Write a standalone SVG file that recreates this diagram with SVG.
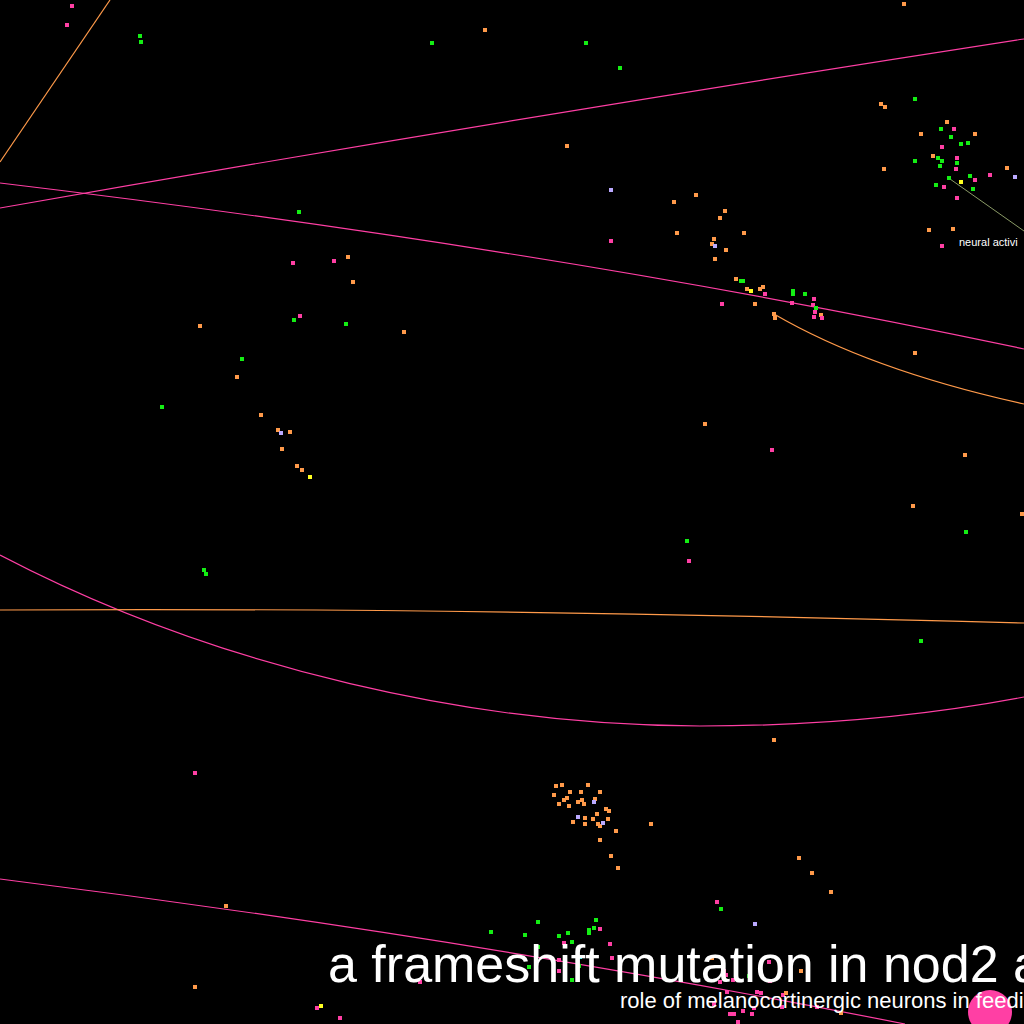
<svg xmlns="http://www.w3.org/2000/svg" xmlns:xlink="http://www.w3.org/1999/xlink" width="1024" height="1024" viewBox="0 0 1024 1024">
<style>
.p{fill:#ff3fa4}.o{fill:#ff9a4a}.g{fill:#14ee14}.l{fill:#bbaaff}.y{fill:#ffff22}.c{fill:#22eeee}
.lp{fill:none;stroke:#ff3fa4;stroke-width:1.2}
.lo{fill:none;stroke:#ff9a4a;stroke-width:1.2}
.t{font-family:"Liberation Sans",Arial,sans-serif;fill:#ffffff}
</style>
<defs><rect id="d" x="-2" y="-2" width="4" height="4"/></defs>
<rect width="1024" height="1024" fill="#000"/>
<g id="connectors">
<path class="lo" d="M110,0 L0,162"/>
<path class="lp" d="M0,208 Q500,120 1024,39"/>
<path class="lp" d="M0,183 Q560,250 1024,349"/>
<path class="lo" d="M774,314 Q870,370 1024,404"/>
<path d="M950,179 L1024,231" fill="none" stroke="#8a9a66" stroke-width="1"/>
<path class="lp" d="M0,555 C220,670 480,726 700,726 C830,726 940,713 1024,697"/>
<path class="lo" d="M0,610 Q450,607 1024,623"/>
<path class="lp" d="M0,879 Q470,938 905,1024"/>
</g>
<g id="dots">
<use href="#d" class="p" x="72" y="6"/><use href="#d" class="p" x="67" y="25"/>
<use href="#d" class="g" x="140" y="36"/><use href="#d" class="g" x="141" y="42"/>
<use href="#d" class="g" x="299" y="212"/>
<use href="#d" class="o" x="485" y="30"/><use href="#d" class="g" x="432" y="43"/>
<use href="#d" class="g" x="586" y="43"/><use href="#d" class="g" x="620" y="68"/>
<use href="#d" class="o" x="567" y="146"/><use href="#d" class="l" x="611" y="190"/>
<use href="#d" class="o" x="904" y="4"/>
<use href="#d" class="o" x="881" y="104"/><use href="#d" class="o" x="885" y="107"/>
<use href="#d" class="g" x="915" y="99"/><use href="#d" class="o" x="947" y="122"/>
<use href="#d" class="p" x="954" y="129"/><use href="#d" class="o" x="921" y="134"/>
<use href="#d" class="g" x="941" y="129"/><use href="#d" class="g" x="951" y="137"/>
<use href="#d" class="o" x="975" y="134"/><use href="#d" class="g" x="961" y="144"/>
<use href="#d" class="g" x="968" y="143"/><use href="#d" class="p" x="942" y="147"/>
<use href="#d" class="p" x="957" y="158"/><use href="#d" class="o" x="933" y="156"/>
<use href="#d" class="g" x="938" y="158"/><use href="#d" class="g" x="942" y="161"/>
<use href="#d" class="g" x="915" y="161"/><use href="#d" class="g" x="957" y="163"/>
<use href="#d" class="g" x="940" y="166"/><use href="#d" class="p" x="956" y="169"/>
<use href="#d" class="o" x="884" y="169"/><use href="#d" class="g" x="970" y="176"/>
<use href="#d" class="p" x="975" y="180"/><use href="#d" class="p" x="990" y="175"/>
<use href="#d" class="o" x="1007" y="168"/><use href="#d" class="l" x="1015" y="177"/>
<use href="#d" class="y" x="961" y="182"/><use href="#d" class="g" x="949" y="178"/>
<use href="#d" class="g" x="936" y="185"/><use href="#d" class="p" x="944" y="187"/>
<use href="#d" class="g" x="973" y="189"/><use href="#d" class="p" x="957" y="198"/>
<use href="#d" class="o" x="929" y="230"/><use href="#d" class="o" x="953" y="229"/>
<use href="#d" class="p" x="942" y="246"/>
<use href="#d" class="o" x="696" y="195"/><use href="#d" class="o" x="674" y="202"/>
<use href="#d" class="o" x="725" y="211"/><use href="#d" class="o" x="720" y="218"/>
<use href="#d" class="o" x="677" y="233"/><use href="#d" class="o" x="744" y="233"/>
<use href="#d" class="o" x="714" y="239"/><use href="#d" class="o" x="712" y="244"/>
<use href="#d" class="l" x="715" y="246"/><use href="#d" class="o" x="726" y="250"/>
<use href="#d" class="o" x="715" y="259"/><use href="#d" class="o" x="736" y="279"/>
<use href="#d" class="g" x="741" y="281"/><use href="#d" class="g" x="743" y="281"/>
<use href="#d" class="o" x="747" y="289"/><use href="#d" class="y" x="751" y="291"/>
<use href="#d" class="o" x="763" y="287"/><use href="#d" class="o" x="760" y="289"/>
<use href="#d" class="p" x="765" y="294"/><use href="#d" class="g" x="793" y="291"/>
<use href="#d" class="g" x="793" y="294"/><use href="#d" class="g" x="805" y="294"/>
<use href="#d" class="o" x="755" y="304"/><use href="#d" class="p" x="722" y="304"/>
<use href="#d" class="p" x="792" y="303"/><use href="#d" class="p" x="814" y="299"/>
<use href="#d" class="p" x="813" y="305"/><use href="#d" class="g" x="816" y="308"/>
<use href="#d" class="p" x="815" y="312"/><use href="#d" class="p" x="814" y="317"/>
<use href="#d" class="o" x="821" y="315"/><use href="#d" class="p" x="822" y="318"/>
<use href="#d" class="o" x="774" y="314"/><use href="#d" class="o" x="775" y="318"/>
<use href="#d" class="p" x="611" y="241"/>
<use href="#d" class="p" x="293" y="263"/><use href="#d" class="p" x="334" y="261"/>
<use href="#d" class="o" x="348" y="257"/><use href="#d" class="o" x="353" y="282"/>
<use href="#d" class="p" x="300" y="316"/><use href="#d" class="g" x="294" y="320"/>
<use href="#d" class="g" x="346" y="324"/><use href="#d" class="o" x="404" y="332"/>
<use href="#d" class="g" x="242" y="359"/><use href="#d" class="o" x="261" y="415"/>
<use href="#d" class="o" x="278" y="430"/><use href="#d" class="l" x="281" y="433"/>
<use href="#d" class="o" x="290" y="432"/><use href="#d" class="o" x="282" y="449"/>
<use href="#d" class="o" x="297" y="466"/><use href="#d" class="o" x="302" y="470"/>
<use href="#d" class="y" x="310" y="477"/>
<use href="#d" class="o" x="200" y="326"/><use href="#d" class="o" x="237" y="377"/>
<use href="#d" class="g" x="162" y="407"/><use href="#d" class="g" x="204" y="570"/>
<use href="#d" class="g" x="206" y="574"/>
<use href="#d" class="o" x="915" y="353"/><use href="#d" class="o" x="705" y="424"/>
<use href="#d" class="p" x="772" y="450"/><use href="#d" class="o" x="965" y="455"/>
<use href="#d" class="o" x="913" y="506"/><use href="#d" class="o" x="1022" y="514"/>
<use href="#d" class="g" x="966" y="532"/><use href="#d" class="g" x="687" y="541"/>
<use href="#d" class="p" x="689" y="561"/><use href="#d" class="g" x="921" y="641"/>
<use href="#d" class="p" x="195" y="773"/><use href="#d" class="o" x="226" y="906"/>
<use href="#d" class="o" x="195" y="987"/><use href="#d" class="p" x="317" y="1008"/>
<use href="#d" class="y" x="321" y="1006"/><use href="#d" class="p" x="340" y="1018"/>
<use href="#d" class="p" x="420" y="982"/>
<use href="#d" class="o" x="774" y="740"/><use href="#d" class="o" x="651" y="824"/>
<use href="#d" class="o" x="799" y="858"/><use href="#d" class="o" x="812" y="873"/>
<use href="#d" class="o" x="831" y="892"/>
<use href="#d" class="o" x="556" y="786"/><use href="#d" class="o" x="562" y="785"/>
<use href="#d" class="o" x="588" y="785"/><use href="#d" class="o" x="554" y="795"/>
<use href="#d" class="o" x="570" y="792"/><use href="#d" class="o" x="581" y="792"/>
<use href="#d" class="o" x="600" y="792"/><use href="#d" class="o" x="564" y="800"/>
<use href="#d" class="o" x="567" y="798"/><use href="#d" class="o" x="582" y="800"/>
<use href="#d" class="o" x="578" y="802"/><use href="#d" class="o" x="584" y="804"/>
<use href="#d" class="o" x="595" y="799"/><use href="#d" class="l" x="594" y="802"/>
<use href="#d" class="o" x="559" y="804"/><use href="#d" class="o" x="569" y="806"/>
<use href="#d" class="o" x="597" y="814"/><use href="#d" class="o" x="606" y="809"/>
<use href="#d" class="o" x="609" y="811"/><use href="#d" class="l" x="578" y="817"/>
<use href="#d" class="o" x="585" y="818"/><use href="#d" class="o" x="593" y="819"/>
<use href="#d" class="o" x="608" y="819"/><use href="#d" class="o" x="573" y="822"/>
<use href="#d" class="o" x="585" y="824"/><use href="#d" class="o" x="598" y="824"/>
<use href="#d" class="o" x="600" y="826"/><use href="#d" class="l" x="603" y="823"/>
<use href="#d" class="o" x="616" y="831"/><use href="#d" class="o" x="600" y="840"/>
<use href="#d" class="o" x="611" y="856"/><use href="#d" class="o" x="618" y="868"/>
<use href="#d" class="p" x="717" y="902"/><use href="#d" class="g" x="721" y="909"/>
<use href="#d" class="l" x="755" y="924"/><use href="#d" class="g" x="491" y="932"/>
<use href="#d" class="g" x="538" y="922"/><use href="#d" class="g" x="525" y="935"/>
<use href="#d" class="g" x="559" y="936"/><use href="#d" class="g" x="568" y="933"/>
<use href="#d" class="g" x="589" y="930"/><use href="#d" class="g" x="589" y="933"/>
<use href="#d" class="g" x="594" y="928"/><use href="#d" class="g" x="596" y="920"/>
<use href="#d" class="p" x="600" y="929"/><use href="#d" class="p" x="564" y="943"/>
<use href="#d" class="g" x="572" y="942"/><use href="#d" class="g" x="538" y="947"/>
<use href="#d" class="p" x="610" y="944"/><use href="#d" class="c" x="580" y="957"/>
<use href="#d" class="p" x="612" y="958"/><use href="#d" class="o" x="712" y="958"/>
<use href="#d" class="p" x="736" y="959"/><use href="#d" class="p" x="769" y="962"/>
<use href="#d" class="g" x="529" y="967"/><use href="#d" class="p" x="559" y="960"/>
<use href="#d" class="p" x="559" y="971"/><use href="#d" class="g" x="579" y="966"/>
<use href="#d" class="g" x="572" y="980"/><use href="#d" class="p" x="724" y="971"/>
<use href="#d" class="p" x="726" y="975"/><use href="#d" class="p" x="720" y="982"/>
<use href="#d" class="g" x="749" y="976"/><use href="#d" class="p" x="733" y="980"/>
<use href="#d" class="p" x="770" y="981"/><use href="#d" class="o" x="801" y="971"/>
<use href="#d" class="p" x="727" y="992"/><use href="#d" class="p" x="757" y="992"/>
<use href="#d" class="p" x="761" y="993"/><use href="#d" class="p" x="783" y="995"/>
<use href="#d" class="o" x="786" y="993"/><use href="#d" class="p" x="754" y="1008"/>
<use href="#d" class="p" x="714" y="1004"/><use href="#d" class="p" x="730" y="1014"/>
<use href="#d" class="p" x="734" y="1014"/><use href="#d" class="p" x="743" y="1011"/>
<use href="#d" class="p" x="752" y="1014"/><use href="#d" class="p" x="738" y="1022"/>
<use href="#d" class="p" x="817" y="1007"/><use href="#d" class="p" x="782" y="1007"/>
<use href="#d" class="o" x="841" y="1013"/>
</g>
<g id="node-circle"><circle cx="990" cy="1012" r="22" class="p"/></g>
<g id="label-neural"><text class="t" x="959" y="246" font-size="11">neural activi</text></g>
<g id="title"><text class="t" x="328" y="982" font-size="52">a frameshift mutation in nod2 a</text></g>
<g id="subtitle"><text class="t" x="620" y="1008" font-size="22">role of melanocortinergic neurons in feedin</text></g>
</svg>
